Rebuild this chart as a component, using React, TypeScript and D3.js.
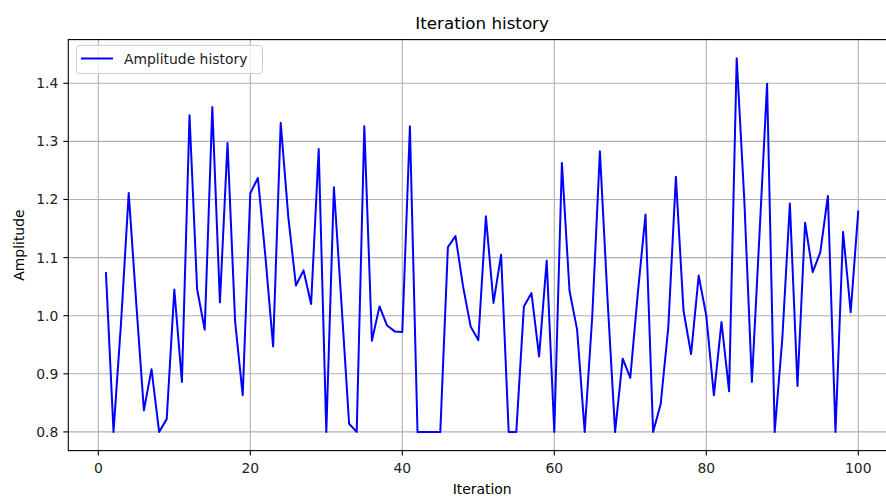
import React from "react";
import * as d3 from "d3";

const iterations: number[] = Array.from({ length: 100 }, (_, i) => i + 1);
const amplitude: number[] = [
  1.075, 0.8, 0.99, 1.211, 1.02, 0.837, 0.908, 0.8, 0.822, 1.045,
  0.886, 1.345, 1.046, 0.976, 1.359, 1.023, 1.297, 0.99, 0.863, 1.211,
  1.237, 1.1, 0.947, 1.332, 1.17, 1.052, 1.078, 1.02, 1.287, 0.8,
  1.221, 1.02, 0.814, 0.8, 1.326, 0.957, 1.016, 0.983, 0.973, 0.972,
  1.326, 0.8, 0.8, 0.8, 0.8, 1.118, 1.137, 1.05, 0.981, 0.958,
  1.171, 1.022, 1.105, 0.8, 0.8, 1.016, 1.039, 0.93, 1.095, 0.8,
  1.263, 1.043, 0.976, 0.8, 1.0, 1.283, 1.03, 0.8, 0.926, 0.893,
  1.04, 1.174, 0.8, 0.848, 0.98, 1.239, 1.009, 0.934, 1.069, 1.0,
  0.863, 0.989, 0.87, 1.443, 1.2, 0.886, 1.14, 1.399, 0.8, 0.96,
  1.193, 0.879, 1.16, 1.075, 1.109, 1.206, 0.8, 1.144, 1.006, 1.181,
];
const xTicks: number[] = [0, 20, 40, 60, 80, 100];
const yTicks: number[] = [0.8, 0.9, 1.0, 1.1, 1.2, 1.3, 1.4];
const title = "Iteration history";
const xLabel = "Iteration";
const yLabel = "Amplitude";
const seriesName = "Amplitude history";

export default function App() {
  const W = 886, H = 496;
  const left = 68.3, right = 895.9, top = 39.6, bottom = 450.6;
  const [xmin, xmax] = d3.extent(iterations) as [number, number];
  const [ymin, ymax] = d3.extent(amplitude) as [number, number];
  const xp = (xmax - xmin) * 0.05;
  const yp = (ymax - ymin) * 0.05;
  const x = d3.scaleLinear().domain([xmin - xp, xmax + xp]).range([left, right]);
  const y = d3.scaleLinear().domain([ymin - yp, ymax + yp]).range([bottom, top]);
  const line = d3
    .line<number>()
    .x((_, i) => x(iterations[i]))
    .y((d) => y(d));
  const font = "DejaVu Sans, sans-serif";
  const fmt = d3.format(".1f");
  const tl = 4.9;
  return (
    <svg
      width={W}
      height={H}
      style={{ position: "absolute", left: 0, top: 0, background: "#fff" }}
      fontFamily={font}
    >
      <rect x={0} y={0} width={W} height={H} fill="#fff" />
      <defs>
        <clipPath id="plotclip">
          <rect x={left} y={top} width={right - left} height={bottom - top} />
        </clipPath>
      </defs>
      {xTicks.map((t) => (
        <line key={"gx" + t} x1={x(t)} x2={x(t)} y1={top} y2={bottom} stroke="#b0b0b0" strokeWidth={1.1} />
      ))}
      {yTicks.map((t) => (
        <line key={"gy" + t} x1={left} x2={right} y1={y(t)} y2={y(t)} stroke="#b0b0b0" strokeWidth={1.1} />
      ))}
      <path
        d={line(amplitude) || ""}
        fill="none"
        stroke="#0000ff"
        strokeWidth={2}
        strokeLinejoin="round"
        clipPath="url(#plotclip)"
      />
      <rect x={left} y={top} width={right - left} height={bottom - top} fill="none" stroke="#000" strokeWidth={1.1} />
      {xTicks.map((t) => (
        <g key={"tx" + t}>
          <line x1={x(t)} x2={x(t)} y1={bottom} y2={bottom + tl} stroke="#000" strokeWidth={1.1} />
          <text x={x(t)} y={bottom + 18} textAnchor="middle" dominantBaseline="middle" fontSize={13.9} fill="#222">
            {t}
          </text>
        </g>
      ))}
      {yTicks.map((t) => (
        <g key={"ty" + t}>
          <line x1={left - tl} x2={left} y1={y(t)} y2={y(t)} stroke="#000" strokeWidth={1.1} />
          <text x={left - 10} y={y(t)} textAnchor="end" dominantBaseline="central" fontSize={13.9} fill="#222">
            {fmt(t)}
          </text>
        </g>
      ))}
      <text x={(left + right) / 2} y={29} textAnchor="middle" fontSize={16.7} fill="#000">
        {title}
      </text>
      <text x={(left + right) / 2} y={494} textAnchor="middle" fontSize={13.9} fill="#000">
        {xLabel}
      </text>
      <text
        transform={`translate(24, ${(top + bottom) / 2}) rotate(-90)`}
        textAnchor="middle"
        fontSize={13.9}
        fill="#000"
      >
        {yLabel}
      </text>
      <rect x={76.5} y={45.5} width={186} height={28} rx={3} fill="#fff" fillOpacity={0.8} stroke="#cccccc" strokeWidth={1} />
      <line x1={81} x2={113} y1={58.5} y2={58.5} stroke="#0000ff" strokeWidth={2} />
      <text x={124} y={59} dominantBaseline="central" fontSize={13.9} fill="#222">
        {seriesName}
      </text>
    </svg>
  );
}
